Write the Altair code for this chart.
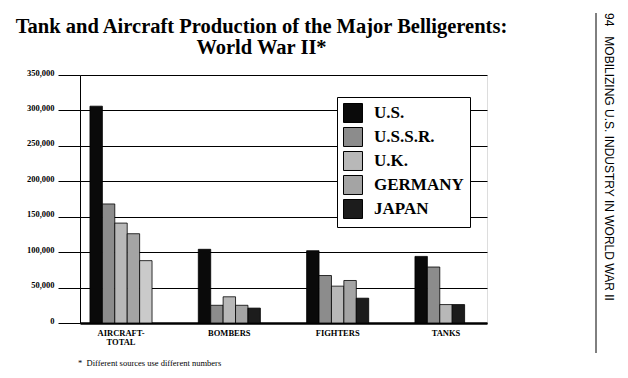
import altair as alt
import pandas as pd

categories = ["AIRCRAFT-TOTAL", "BOMBERS", "FIGHTERS", "TANKS"]
countries = ["U.S.", "U.S.S.R.", "U.K.", "GERMANY", "JAPAN"]
us = [306000, 104000, 102000, 94000]
ussr = [168000, 25000, 67000, 79000]
uk = [141000, 37000, 52000, 26000]
germany = [126000, 25000, 60000, None]
japan = [88000, 21000, 35000, 26000]
y_ticks = [0, 50000, 100000, 150000, 200000, 250000, 300000, 350000]

title_lines = ["Tank and Aircraft Production of the Major Belligerents:", "World War II*"]
side_text = "94\u00a0\u00a0\u00a0MOBILIZING U.S. INDUSTRY IN WORLD WAR II"
footnote = "*\u00a0\u00a0Different sources use different numbers"

shade_domain = ["U.S.", "U.S.S.R.", "U.K.", "GERMANY", "JAPAN", "JAPAN-LIGHT"]
shade_range = ["#0a0a0a", "#8c8c8c", "#b8b8b8", "#a4a4a4", "#1c1c1c", "#cacaca"]

series = [us, ussr, uk, germany, japan]
rows = []
for ci, cat in enumerate(categories):
    slot = 0
    for country, vals in zip(countries, series):
        v = vals[ci]
        if v is None:
            continue
        shade = country
        if country == "JAPAN" and cat == "AIRCRAFT-TOTAL":
            shade = "JAPAN-LIGHT"
        rows.append(dict(category=cat, country=country, value=v, slot=slot, shade=shade))
        slot += 1
df = pd.DataFrame(rows)

SERIF = "Liberation Serif"

bars = alt.Chart(df).mark_bar(stroke="black", strokeWidth=0.8).encode(
    x=alt.X("category:N", sort=categories,
            scale=alt.Scale(paddingInner=0.427, paddingOuter=0.092),
            axis=alt.Axis(title=None, ticks=False, labelAngle=0, domainWidth=2.5, domainColor="black",
                          labelFont=SERIF, labelFontWeight="bold", labelFontSize=8.5, labelColor="black",
                          labelPadding=5, labelLineHeight=9.5,
                          labelExpr="split(replace(datum.label, '-', '-|\u00a0\u00a0\u00a0\u00a0\u00a0\u00a0'), '|')")),
    xOffset=alt.XOffset("slot:O", scale=alt.Scale(domain=[0, 1, 2, 3, 4], paddingInner=0, paddingOuter=0)),
    y=alt.Y("value:Q", scale=alt.Scale(domain=[0, 350000], nice=False),
            axis=alt.Axis(title=None, values=y_ticks, format=",d", tickSize=22, tickColor="black", tickWidth=1,
                          domainColor="black", gridColor="black", gridWidth=1, gridOpacity=1,
                          labelFont=SERIF, labelFontWeight="bold", labelFontSize=8.5, labelColor="black",
                          labelPadding=4, labelOffset=-3)),
    fill=alt.Fill("shade:N", scale=alt.Scale(domain=shade_domain, range=shade_range),
                  legend=alt.Legend(title=None, values=countries, orient="none", legendX=257, legendY=22,
                                    symbolType="square", symbolSize=360, symbolStrokeColor="black",
                                    symbolStrokeWidth=1, labelFont=SERIF, labelFontWeight="bold",
                                    labelFontSize=17, labelColor="black", labelOffset=11, rowPadding=0,
                                    padding=6, strokeColor="black", fillColor="white")),
)

side = alt.Chart(pd.DataFrame({"t": [side_text]})).mark_text(
    angle=90, align="left", baseline="middle", font="Liberation Sans", fontSize=12, color="black"
).encode(x=alt.value(529), y=alt.value(-62), text="t:N")

side_rule = alt.Chart(pd.DataFrame({"t": [side_text]})).mark_rule(color="black", strokeWidth=1).encode(
    x=alt.value(516), y=alt.value(-62), y2=alt.value(278))

foot = alt.Chart(pd.DataFrame({"t": [footnote]})).mark_text(
    align="left", baseline="middle", font=SERIF, fontSize=8.5, color="black"
).encode(x=alt.value(-2), y=alt.value(288), text="t:N")

chart = alt.layer(bars, side_rule, side, foot).properties(
    width=407, height=248,
    padding={"left": 72, "top": 67, "right": 131, "bottom": 45},
    autosize=alt.AutoSizeParams(type="none"),
    title=alt.TitleParams(text=title_lines, anchor="middle", frame="group",
                          dx=-22, dy=62, font=SERIF, fontSize=20.5, fontWeight="bold", color="black",
                          lineHeight=21, offset=0, baseline="alphabetic"),
).configure_view(stroke="black", strokeWidth=1).configure(background="white")

chart.save("out.html", embed_options={"renderer": "svg", "actions": False})
